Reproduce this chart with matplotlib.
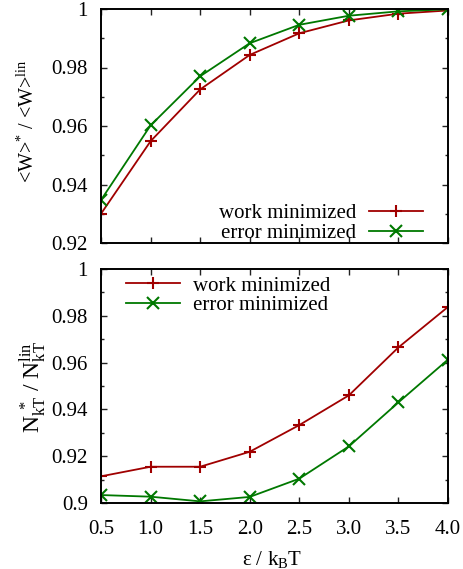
import matplotlib
matplotlib.use("Agg")
import matplotlib.pyplot as plt
from matplotlib.ticker import FixedLocator, FixedFormatter, MultipleLocator

plt.rcParams['font.family'] = ['Liberation Serif', 'DejaVu Serif']
plt.rcParams['mathtext.fontset'] = 'custom'
plt.rcParams['mathtext.rm'] = 'Liberation Serif'
plt.rcParams['mathtext.it'] = 'Liberation Serif:italic'
plt.rcParams['font.size'] = 15

# barrier height in units of k_B T
eps = [0.5, 1.0, 1.5, 2.0, 2.5, 3.0, 3.5, 4.0]

# mean work ratio <W>* / <W>lin
work_W = [0.930, 0.9548, 0.9725, 0.9843, 0.9917, 0.9961, 0.9984, 0.9995]
error_W = [0.9347, 0.9602, 0.9770, 0.9883, 0.9946, 0.9977, 0.9992, 0.9999]

# kT-count ratio N_kT* / N_kT^lin
work_N = [0.9114, 0.9155, 0.9155, 0.9219, 0.9333, 0.9460, 0.9665, 0.9838]
error_N = [0.9034, 0.9027, 0.9007, 0.9026, 0.9104, 0.9242, 0.9430, 0.9613]

labels = ["work minimized", "error minimized"]

x_ticks = [0.5, 1.0, 1.5, 2.0, 2.5, 3.0, 3.5, 4.0]
x_ticklabels = ["0.5", "1.0", "1.5", "2.0", "2.5", "3.0", "3.5", "4.0"]
top_yticks = [0.92, 0.94, 0.96, 0.98, 1.0]
top_yticklabels = ["0.92", "0.94", "0.96", "0.98", "1"]
bot_yticks = [0.90, 0.92, 0.94, 0.96, 0.98, 1.0]
bot_yticklabels = ["0.9", "0.92", "0.94", "0.96", "0.98", "1"]

RED = '#a00000'
GREEN = '#007800'
FS = 15

W, H = 464, 569
fig = plt.figure(figsize=(W / 100, H / 100), dpi=100)

def px_axes(left, top, right, bottom):
    return fig.add_axes([left / W, 1 - bottom / H, (right - left) / W, (bottom - top) / H])

ax1 = px_axes(101, 9, 448, 243)
ax2 = px_axes(101, 269, 448, 503)

def style(ax, yt, ytl, ylim):
    ax.set_xlim(0.5, 4.0)
    ax.set_ylim(*ylim)
    ax.xaxis.set_major_locator(FixedLocator(x_ticks))
    ax.yaxis.set_major_locator(FixedLocator(yt))
    ax.yaxis.set_major_formatter(FixedFormatter(ytl))
    ax.yaxis.set_minor_locator(MultipleLocator(0.01))
    ax.tick_params(which='both', direction='in', top=True, right=True,
                   width=1.0, color='#222222', labelsize=FS)
    ax.tick_params(which='major', length=4)
    ax.tick_params(which='minor', length=2)
    ax.tick_params(axis='y', pad=9.5)
    ax.tick_params(axis='x', pad=12)
    for s in ax.spines.values():
        s.set_linewidth(1.4)

kw_work = dict(color=RED, lw=1.3, marker='+', ms=8, mew=1.5)
kw_err = dict(color=GREEN, lw=1.3, marker='x', ms=8, mew=1.5)

# upper panel: work ratio
ax1.plot(eps, work_W, label=labels[0], **kw_work)
ax1.plot(eps, error_W, label=labels[1], **kw_err)
style(ax1, top_yticks, top_yticklabels, (0.92, 1.0))
ax1.set_xticklabels([])
ax1.set_ylabel(r'<W>$^{*}$ / <W>$^{\rm lin}$', fontsize=14.5)
ax1.yaxis.set_label_coords(39 / W, 1 - 121 / H, transform=fig.transFigure)
ax1.legend(loc='lower right', bbox_to_anchor=(0.928, 0.0), markerfirst=False,
           frameon=False, handlelength=2.6, handletextpad=0.6, labelspacing=0.0,
           borderpad=0, borderaxespad=0, fontsize=FS)

# lower panel: N_kT ratio
ax2.plot(eps, work_N, label=labels[0], **kw_work)
ax2.plot(eps, error_N, label=labels[1], **kw_err)
style(ax2, bot_yticks, bot_yticklabels, (0.90, 1.0))
ax2.xaxis.set_major_formatter(FixedFormatter(x_ticklabels))
ax2.set_ylabel(r'N$_{\rm kT}^{\ *}$ / N$_{\rm kT}^{\rm lin}$', fontsize=17)
ax2.yaxis.set_label_coords(48 / W, 1 - 387 / H, transform=fig.transFigure)
ax2.set_xlabel(r'ε / k$_{\rm B}$T', fontsize=15)
ax2.xaxis.set_label_coords(272 / W, 1 - 549 / H, transform=fig.transFigure)
ax2.legend(loc='upper left', bbox_to_anchor=(0.072, 0.970), frameon=False,
           handlelength=2.6, handletextpad=0.6, labelspacing=0.0,
           borderpad=0, borderaxespad=0, fontsize=FS)

fig.savefig('out.png', dpi=100)
